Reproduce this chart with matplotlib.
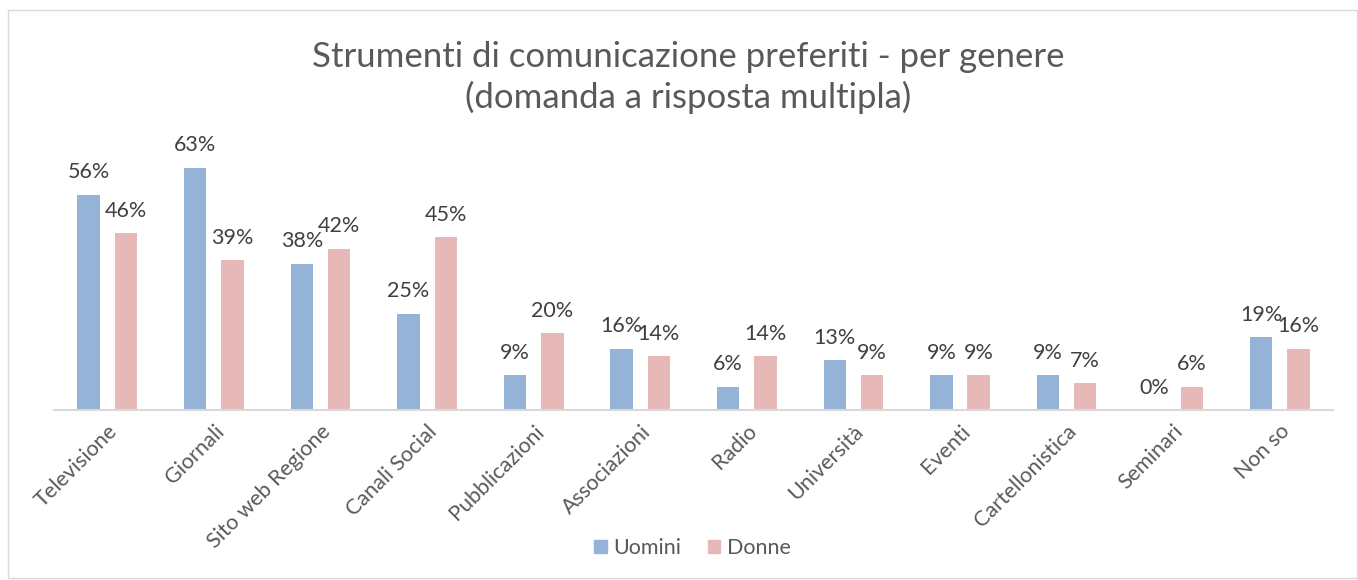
import matplotlib
matplotlib.use("Agg")
import matplotlib.pyplot as plt
from matplotlib.patches import Rectangle, Patch
import numpy as np

plt.rcParams['font.family'] = ['Lato', 'DejaVu Sans']

categories = ["Televisione", "Giornali", "Sito web Regione", "Canali Social", "Pubblicazioni",
              "Associazioni", "Radio", "Università", "Eventi", "Cartellonistica", "Seminari", "Non so"]
uomini = [56, 63, 38, 25, 9, 16, 6, 13, 9, 9, 0, 19]
donne = [46, 39, 42, 45, 20, 14, 14, 9, 9, 7, 6, 16]
series_names = ["Uomini", "Donne"]
title = "Strumenti di comunicazione preferiti - per genere\n(domanda a risposta multipla)"

c_blue = "#95B3D7"
c_pink = "#E6B9B8"
txt = "#595959"

fig = plt.figure(figsize=(13.58, 5.80), dpi=100)
ax = fig.add_axes([0.0398, 0.293, 0.9418, 0.464])

x = np.arange(len(categories))
w = 0.21
off = 0.175
b1 = ax.bar(x - off, uomini, w, color=c_blue, label=series_names[0])
b2 = ax.bar(x + off, donne, w, color=c_pink, label=series_names[1])

for bars, vals in ((b1, uomini), (b2, donne)):
    for rect, v in zip(bars, vals):
        ax.annotate(f"{v}%", (rect.get_x() + rect.get_width() / 2, v),
                    xytext=(0, 9), textcoords="offset points",
                    ha="center", va="bottom", fontsize=15.5, color="#404040")

ax.set_xlim(-0.5, len(categories) - 0.5)
ax.set_ylim(0, 70)
ax.set_yticks([])
ax.set_xticks(x)
ax.set_xticklabels(categories, rotation=45, ha="right", rotation_mode="anchor",
                   fontsize=15.5, color=txt)
ax.tick_params(axis="x", length=0, pad=8)
for s in ("top", "right", "left"):
    ax.spines[s].set_visible(False)
ax.spines["bottom"].set_color("#D9D9D9")
ax.spines["bottom"].set_linewidth(1.5)

fig.text(0.5066, 0.866, title, ha="center", va="center", fontsize=25, color=txt,
         linespacing=1.3)

leg = fig.legend(handles=[Patch(color=c_blue, label=series_names[0]),
                          Patch(color=c_pink, label=series_names[1])],
                 loc="center", bbox_to_anchor=(0.51, 0.055), ncol=2, frameon=False,
                 fontsize=15.5, handlelength=0.6, handleheight=0.6, handletextpad=0.3,
                 columnspacing=1.2)
for t in leg.get_texts():
    t.set_color(txt)

fig.patches.append(Rectangle((8 / 1358, 2 / 580), 1349 / 1358, 568 / 580,
                             transform=fig.transFigure, fill=False,
                             edgecolor="#D9D9D9", linewidth=1))

fig.savefig("out.png", dpi=100, facecolor="white")
